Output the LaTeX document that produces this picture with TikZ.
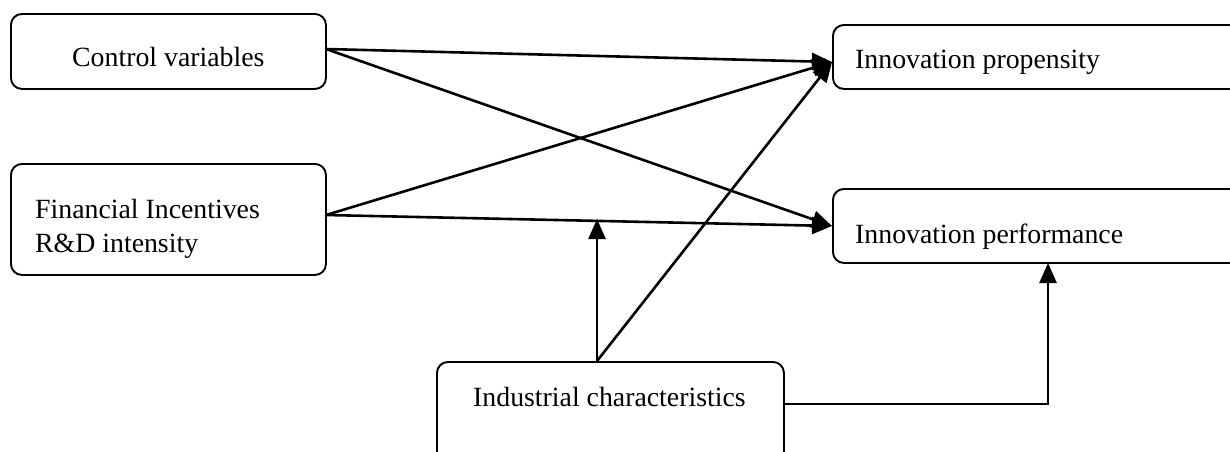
\documentclass[tikz,border=0pt]{standalone}
\usepackage{fontspec}
\setmainfont{Liberation Serif}
\usetikzlibrary{arrows.meta,calc}
\begin{document}
\begin{tikzpicture}[x=1pt,y=-1pt,
  box/.style={draw,line width=1.9pt,rounded corners=11pt,inner sep=0pt,anchor=north west},
  lbl/.style={inner sep=0pt,anchor=base west,font=\fontsize{27.8}{33}\selectfont},
  conn/.style={line width=2.6pt,-{Triangle[length=20pt,width=17pt]}}]
\useasboundingbox (0,0) rectangle (1230,451);
% boxes
\node[box,minimum width=315pt,minimum height=75pt] (ctrl) at (10,13) {};
\node[box,minimum width=315pt,minimum height=111pt] (fin) at (10,163) {};
\node[box,minimum width=410pt,minimum height=64pt] (prop) at (832,24) {};
\node[box,minimum width=410pt,minimum height=74pt] (perf) at (832,188) {};
\node[box,minimum width=347pt,minimum height=110pt] (ind) at (436,361) {};
% labels
\node[lbl] (tctrl) at (72,66) {Control variables};
\node[lbl] (tfin1) at (35,218) {Financial Incentives};
\node[lbl] (tfin2) at (35,252) {R\&D intensity};
\node[lbl] (tprop) at (855,68) {Innovation propensity};
\node[lbl] (tperf) at (855,243) {Innovation performance};
\node[lbl] (tind) at (473,406) {Industrial characteristics};
% connection points
\coordinate (cout) at (326,49);
\coordinate (fout) at (326,215);
\coordinate (pin) at (832,62);
\coordinate (qin) at (832,226);
\coordinate (itop) at (597,361);
\coordinate (mod) at (597,219);
\coordinate (iout) at (783,404);
\coordinate (qbot) at (1048,263);
% connectors
\draw[conn] (cout) -- (pin);
\draw[conn] (cout) -- (qin);
\draw[conn] (fout) -- (pin);
\draw[conn] (fout) -- (qin);
\draw[conn] (itop) -- (mod);
\draw[conn] (itop) -- (pin);
\draw[conn] (iout) -| (qbot);
\end{tikzpicture}
\end{document}
